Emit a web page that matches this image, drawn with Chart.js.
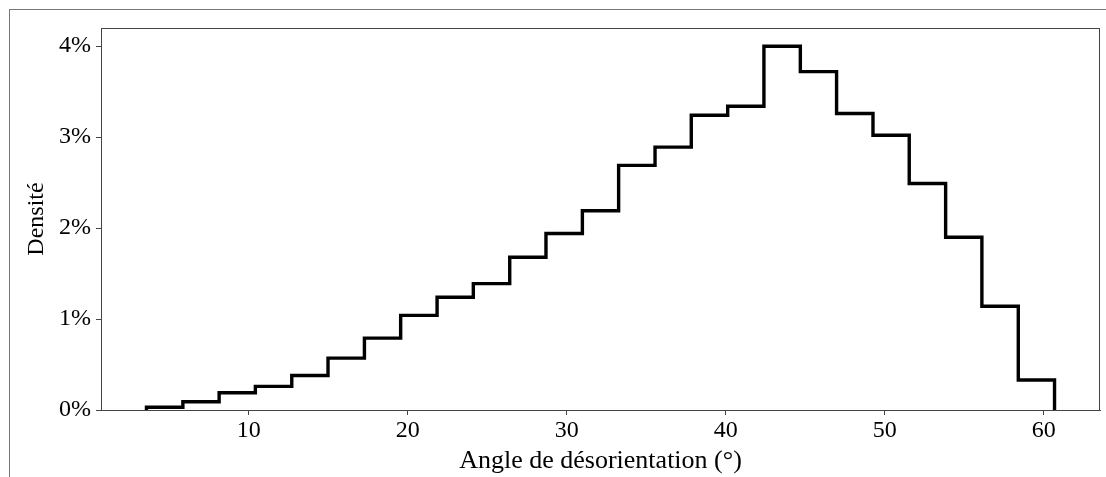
<!DOCTYPE html>
<html lang="fr">
  <head>
    <meta charset="UTF-8" />
    <title>Densité - angle de désorientation</title>
    <script src="https://cdn.jsdelivr.net/npm/chart.js"></script>
    <style>
      html, body { margin: 0; padding: 0; background: #fff; overflow: hidden; }
      #wrap { position: relative; width: 1106px; height: 477px; }
      #frame {
        position: absolute; left: 9px; top: 9px; width: 1200px; height: 600px;
        border-left: 1px solid #777; border-top: 1px solid #777;
      }
      #chart { position: absolute; left: 0; top: 0; }
    </style>
  </head>
  <body>
    <div id="wrap">
      <div id="frame"></div>
      <canvas id="chart" width="1106" height="477"></canvas>
    </div>

    <script>
      // bin edges (degrees)
      const binEdges = [
        3.56, 5.85, 8.13, 10.41, 12.70, 14.98, 17.27, 19.55, 21.84, 24.12,
        26.41, 28.69, 30.98, 33.26, 35.55, 37.83, 40.12, 42.40, 44.69, 46.97,
        49.26, 51.54, 53.83, 56.11, 58.40, 60.68,
      ];
      // density of each bin, in percent
      const densities = [
        0.03, 0.09, 0.19, 0.26, 0.38, 0.57, 0.79, 1.04, 1.24, 1.39,
        1.68, 1.94, 2.19, 2.69, 2.89, 3.24, 3.34, 4.0, 3.72, 3.26,
        3.02, 2.49, 1.9, 1.14, 0.33,
      ];
      const xTicks = [10, 20, 30, 40, 50, 60];
      const yTicks = [0, 1, 2, 3, 4];

      // outline of the step histogram
      const outline = [{ x: binEdges[0], y: 0 }];
      densities.forEach((d, i) => {
        outline.push({ x: binEdges[i], y: d });
        outline.push({ x: binEdges[i + 1], y: d });
      });
      outline.push({ x: binEdges[binEdges.length - 1], y: 0 });

      const FONT = "'Liberation Serif', 'DejaVu Serif', serif";
      const AXIS = "#444";

      const boxPlugin = {
        id: "box",
        afterDatasetsDraw(chart) {
          const { ctx, chartArea: a } = chart;
          ctx.save();
          ctx.strokeStyle = AXIS;
          ctx.lineWidth = 1;
          ctx.strokeRect(a.left + 0.5, a.top + 0.5, a.right - a.left - 1, a.bottom - a.top);
          ctx.restore();
        },
      };

      new Chart(document.getElementById("chart"), {
        type: "line",
        data: {
          datasets: [
            {
              data: outline,
              borderColor: "#000",
              borderWidth: 3.4,
              borderJoinStyle: "miter",
              borderCapStyle: "butt",
              pointRadius: 0,
              tension: 0,
              fill: false,
            },
          ],
        },
        options: {
          responsive: false,
          animation: false,
          layout: { padding: { top: 28, right: 6, left: 0, bottom: 0 } },
          plugins: { legend: { display: false }, tooltip: { enabled: false } },
          scales: {
            x: {
              type: "linear",
              min: 0.7,
              max: 63.54,
              afterBuildTicks: (s) => { s.ticks = xTicks.map((v) => ({ value: v })); },
              afterFit: (s) => { s.height = 67; },
              grid: { drawOnChartArea: false, drawTicks: true, tickLength: 5, color: AXIS },
              border: { display: true, color: AXIS, width: 1 },
              ticks: { color: "#000", font: { family: FONT, size: 24 }, padding: 1, maxRotation: 0 },
              title: {
                display: true,
                text: "Angle de désorientation (°)",
                color: "#000",
                font: { family: FONT, size: 26 },
                padding: { top: 0, bottom: 0 },
              },
            },
            y: {
              min: 0,
              max: 4.2,
              afterBuildTicks: (s) => { s.ticks = yTicks.map((v) => ({ value: v })); },
              afterFit: (s) => { s.width = 101; },
              grid: { drawOnChartArea: false, drawTicks: true, tickLength: 5, color: AXIS },
              border: { display: true, color: AXIS, width: 1 },
              ticks: {
                color: "#000",
                font: { family: FONT, size: 24 },
                padding: 5,
                callback: (v) => v + "%",
              },
              title: {
                display: true,
                text: "Densité",
                color: "#000",
                font: { family: FONT, size: 24 },
                padding: { top: 22, bottom: 0 },
              },
            },
          },
        },
        plugins: [boxPlugin],
      });
    </script>
  </body>
</html>
